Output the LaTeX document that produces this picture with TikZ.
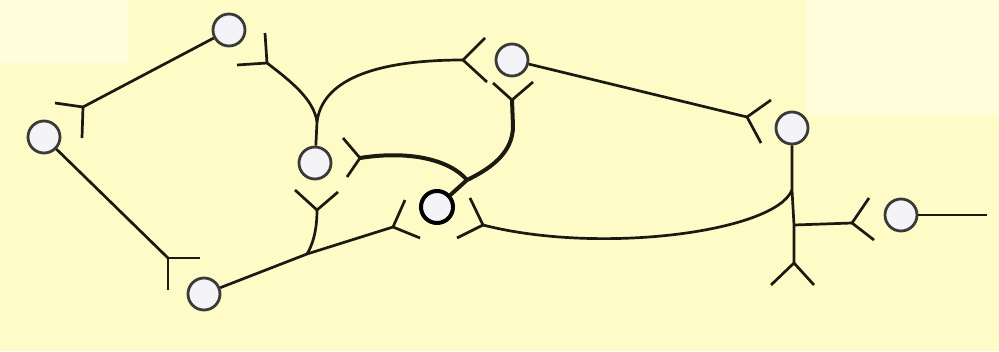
\documentclass[tikz,border=0pt]{standalone}
\definecolor{bgy}{HTML}{FFFBC6}
\definecolor{bgl}{HTML}{FFFDDC}
\definecolor{nodefill}{HTML}{F4F3F7}
\definecolor{nodeline}{HTML}{3A3A36}
\definecolor{ink}{HTML}{1A1A10}
\begin{document}
\begin{tikzpicture}[x=1pt,y=-1pt,
  site/.style={circle,draw=nodeline,fill=nodefill,line width=2.8pt,minimum size=32pt,inner sep=0pt},
  dsite/.style={site,draw=black,line width=4pt},
  link/.style={draw=ink,line width=2.7pt},
  thicklink/.style={draw=ink,line width=4pt}]
\fill[bgy] (0,0) rectangle (999,351);
\fill[bgl] (0,0) rectangle (128,63);
\fill[bgl] (806,0) rectangle (999,115);
\useasboundingbox (0,0) rectangle (999,351);

% sites
\node[site]  (A) at (229,30)  {};
\node[site]  (B) at (44,137)  {};
\node[site]  (C) at (315,163) {};
\node[dsite] (D) at (437,207) {};
\node[site]  (E) at (512,60)  {};
\node[site]  (F) at (792,128) {};
\node[site]  (G) at (901,215) {};
\node[site]  (H) at (204,294) {};

% fork points and junctions
\coordinate (fAB) at (83,107);
\coordinate (fBH) at (168,258);
\coordinate (fAC) at (267,63);
\coordinate (J1)  at (317,122);
\coordinate (fAE) at (463,60);
\coordinate (fEF) at (747,117);
\coordinate (fED) at (512,100);
\coordinate (M)   at (467,180);
\coordinate (fCD) at (360,158);
\coordinate (fCB) at (317,210);
\coordinate (J2)  at (307,254);
\coordinate (fHD) at (393,227);
\coordinate (fDG) at (483,225);
\coordinate (J3)  at (792,190);
\coordinate (J4)  at (794,225);
\coordinate (fFB) at (794,263);
\coordinate (fG)  at (852,223);
\coordinate (tail) at (987,215);

% A - B
\draw[link] (A) -- (fAB);
\draw[link] (fAB) -- ++(-28,-4) (fAB) -- ++(-1,31);
% B - H
\draw[link] (B) -- (fBH);
\draw[link] (fBH) -- ++(32,0) (fBH) -- ++(0,32);
% C up to A and E
\draw[link] (C) -- (J1);
\draw[link] (J1) .. controls (314,100) and (292,82) .. (fAC);
\draw[link] (fAC) -- ++(-2,-30) (fAC) -- ++(-30,2);
\draw[link] (J1) .. controls (322,82) and (370,60) .. (fAE);
\draw[link] (fAE) -- ++(22,-22) (fAE) -- ++(24,22);
% E - F
\draw[link] (E) -- (fEF);
\draw[link] (fEF) -- ++(24,-17) (fEF) -- ++(14,26);
% D up to E
\draw[thicklink] (D) -- (M) .. controls (492,168) and (513,152) .. (513,126) -- (fED);
\draw[link] (fED) -- ++(-19,-17) (fED) -- ++(21,-18);
% D to C (thick)
\draw[thicklink] (M) .. controls (450,160) and (410,150) .. (fCD);
\draw[link] (fCD) -- ++(-17,-20) (fCD) -- ++(-13,19);
% H - D, with branch up to C
\draw[link] (H) -- (J2) -- (fHD);
\draw[link] (fHD) -- ++(12,-27) (fHD) -- ++(27,11);
\draw[link] (J2) .. controls (312,246) and (317,232) .. (fCB);
\draw[link] (fCB) -- ++(-22,-20) (fCB) -- ++(21,-18);
% D - right trunk
\draw[link] (J3) .. controls (775,232) and (600,255) .. (fDG);
\draw[link] (fDG) -- ++(-13,-27) (fDG) -- ++(-26,13);
% F trunk
\draw[link] (F) -- (J3) -- (J4) -- (fFB);
\draw[link] (fFB) -- ++(-23,22) (fFB) -- ++(20,22);
% G branch
\draw[link] (J4) -- (fG);
\draw[link] (fG) -- ++(17,-25) (fG) -- ++(22,17);
\draw[link] (G) -- (tail);
\end{tikzpicture}
\end{document}
